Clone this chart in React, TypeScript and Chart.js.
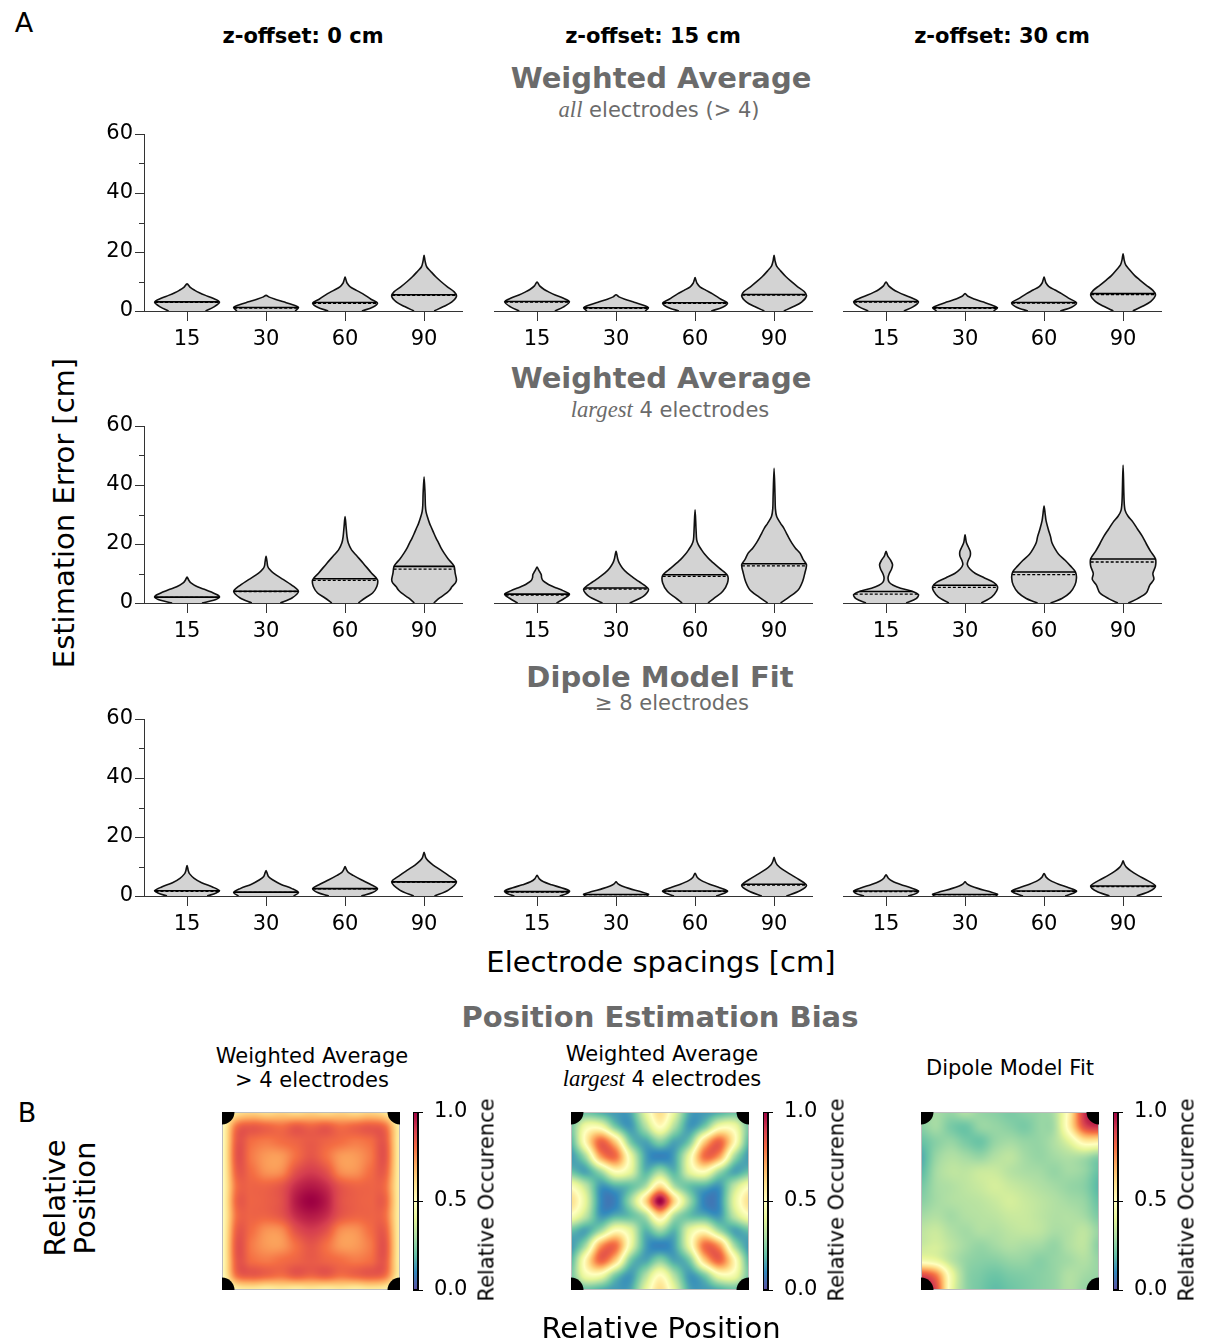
import React, { useEffect, useRef } from 'react';
import { Chart, registerables } from 'chart.js';

Chart.register(...registerables);

const FONT = '"DejaVu Sans", "Liberation Sans", sans-serif';
const MATH = '"Liberation Serif", "DejaVu Serif", serif';
const GRAY = '#6b6b6b';

// ---------------- data ----------------
const spacings = ['15', '30', '60', '90'];
const zOffsets = ['z-offset: 0 cm', 'z-offset: 15 cm', 'z-offset: 30 cm'];
const errorTicks = [0, 20, 40, 60];
const errorMinorTicks = [10, 30, 50];
const occurrenceTicks = [0, 0.5, 1];
const electrodeCorners = [[0, 0], [1, 0], [0, 1], [1, 1]];

type Violin = { mean: number; median: number; shape: [number, number][] };

// Each violin: mean (solid line), median (dashed line) and its outline as
// [estimation error, relative half-width] knots from 0 up to the maximum.
const allZ0: Violin[] = [
  { mean: 3.1, median: 2.9, shape: [[0, .57], [1.4, .83], [3, 1], [4.3, .8], [5.3, .57], [6.2, .38], [7, .24], [8, .1], [9.2, 0]] },
  { mean: 1.2, median: 1.0, shape: [[0, .9], [1.2, 1], [2.2, .8], [3.1, .54], [4, .28], [4.7, .1], [5.3, 0]] },
  { mean: 2.9, median: 2.6, shape: [[0, .52], [1.3, .85], [2.7, 1], [4, .8], [5.9, .54], [7, .35], [8.2, .16], [9.5, .06], [10.5, .03], [11.5, 0]] },
  { mean: 5.5, median: 5.3, shape: [[0, .31], [1.5, .6], [3, .85], [5, 1], [6.5, .93], [8.2, .72], [10, .52], [11.6, .36], [13.5, .2], [15, .08], [17, .03], [18.9, 0]] },
];
const allZ15: Violin[] = [
  { mean: 3.2, median: 3.0, shape: [[0, .55], [1.4, .82], [3.1, 1], [4.4, .8], [5.4, .56], [6.4, .37], [7.3, .22], [8.5, .08], [9.8, 0]] },
  { mean: 1.1, median: 0.9, shape: [[0, .9], [1.1, 1], [2.1, .8], [3.1, .52], [4, .27], [4.8, .09], [5.5, 0]] },
  { mean: 2.8, median: 2.6, shape: [[0, .5], [1.3, .85], [2.7, 1], [4, .8], [5.8, .54], [7, .34], [8.2, .15], [9.4, .06], [10.3, .03], [11.3, 0]] },
  { mean: 5.6, median: 5.4, shape: [[0, .3], [1.5, .6], [3, .85], [5.1, 1], [6.6, .93], [8.3, .72], [10.1, .52], [11.7, .36], [13.6, .2], [15.2, .08], [17, .03], [18.9, 0]] },
];
const allZ30: Violin[] = [
  { mean: 3.2, median: 3.0, shape: [[0, .55], [1.4, .83], [3.1, 1], [4.4, .8], [5.4, .57], [6.4, .37], [7.3, .22], [8.5, .08], [9.8, 0]] },
  { mean: 1.1, median: 0.9, shape: [[0, .88], [1.1, 1], [2.1, .8], [3.1, .54], [4.1, .28], [5, .09], [5.9, 0]] },
  { mean: 2.9, median: 2.7, shape: [[0, .5], [1.3, .85], [2.8, 1], [4.1, .8], [5.9, .54], [7.1, .34], [8.3, .15], [9.5, .06], [10.5, .03], [11.5, 0]] },
  { mean: 5.9, median: 5.6, shape: [[0, .3], [1.6, .6], [3.2, .85], [5.4, 1], [7, .92], [8.7, .72], [10.5, .52], [12, .36], [14, .2], [15.6, .08], [17.5, .03], [19.4, 0]] },
];

const largestZ0: Violin[] = [
  { mean: 2.0, median: 1.9, shape: [[0, .46], [0.9, .82], [2, 1], [2.8, .93], [3.7, .75], [4.5, .57], [5.5, .32], [6.8, .12], [7.8, .05], [8.8, 0]] },
  { mean: 4.0, median: 3.9, shape: [[0, .44], [1.7, .8], [3.9, 1], [5.6, .85], [7.9, .54], [10.1, .23], [11.5, .1], [12.5, .05], [14, .03], [15.8, 0]] },
  { mean: 8.2, median: 7.7, shape: [[0, .41], [1.7, .62], [3.4, .85], [5.6, .98], [7.9, 1], [10.1, .82], [13.5, .56], [16, .36], [18, .2], [20.3, .1], [22.5, .06], [26, .03], [29.3, 0]] },
  { mean: 12.4, median: 11.5, shape: [[0, .3], [1.7, .48], [3.4, .7], [4.5, .8], [5.5, .86], [6.8, .97], [7.9, 1], [10.1, .96], [12.4, .93], [13.5, .86], [15, .74], [16.9, .62], [18.5, .53], [20.3, .45], [22, .37], [23.7, .3], [25.5, .23], [27, .17], [29.3, .1], [31, .06], [33, .04], [37, .03], [42.8, 0]] },
];
const largestZ15: Violin[] = [
  { mean: 3.0, median: 2.7, shape: [[0, .6], [1.7, .86], [3, 1], [4.2, .8], [5.1, .6], [6, .4], [6.8, .28], [7.6, .18], [8.6, .14], [9.6, .13], [10.6, .08], [11.4, .04], [12.2, 0]] },
  { mean: 5.1, median: 4.7, shape: [[0, .42], [2.3, .85], [4.7, 1], [7.3, .7], [8.7, .52], [10.1, .35], [11.8, .2], [13.5, .1], [15, .05], [17.5, 0]] },
  { mean: 9.6, median: 9.0, shape: [[0, .4], [1.7, .6], [3.9, .85], [6.8, 1], [9.4, 1], [11.8, .75], [14.7, .45], [16.5, .3], [18, .2], [19.8, .1], [21.4, .05], [25, .03], [31.6, 0]] },
  { mean: 13.3, median: 12.6, shape: [[0, .2], [2.3, .5], [4.5, .75], [7.3, .88], [10.1, .95], [13, 1], [14.7, .9], [16.9, .8], [18.6, .66], [20.3, .55], [22, .46], [23.7, .38], [25.4, .3], [27, .2], [29.3, .08], [32, .04], [36, .03], [45.7, 0]] },
];
const largestZ30: Violin[] = [
  { mean: 3.9, median: 3.0, shape: [[0, .62], [1.5, .93], [2.8, 1], [4, .8], [5, .45], [6, .22], [7, .1], [8.5, .06], [10, .1], [11.5, .17], [13, .2], [14.5, .14], [16, .05], [17.5, 0]] },
  { mean: 6.0, median: 5.3, shape: [[0, .5], [2, .82], [4, .97], [5.6, 1], [7, .88], [8.5, .6], [10, .32], [11.5, .15], [13, .07], [14.5, .1], [16, .16], [17.5, .16], [19, .1], [20.5, .04], [23.1, 0]] },
  { mean: 10.5, median: 9.6, shape: [[0, .2], [1.5, .55], [3.5, .8], [6, .95], [8.5, 1], [10.5, .97], [12.5, .82], [14.5, .65], [16.5, .45], [18.5, .33], [20.5, .24], [22.5, .2], [25, .13], [28, .06], [30.5, .03], [32.9, 0]] },
  { mean: 14.9, median: 13.9, shape: [[0, .16], [1.5, .45], [3.5, .72], [6, .82], [8, .95], [10, .92], [12.5, 1], [15, 1], [17.5, .85], [20, .72], [22.5, .6], [25, .45], [27.5, .3], [29.5, .15], [31.5, .06], [35, .03], [46.8, 0]] },
];

const dipoleZ0: Violin[] = [
  { mean: 1.8, median: 1.6, shape: [[0, .62], [1, .9], [1.8, 1], [3, .8], [4.5, .45], [6, .22], [7.5, .08], [8.5, .04], [10.3, 0]] },
  { mean: 1.3, median: 1.2, shape: [[0, .85], [1.2, 1], [2.5, .8], [4, .45], [5.5, .2], [6.5, .08], [7.5, .04], [8.6, 0]] },
  { mean: 2.5, median: 2.4, shape: [[0, .5], [1.2, .85], [2.5, 1], [4, .78], [5.5, .5], [7, .25], [8, .1], [9, .04], [10, 0]] },
  { mean: 4.8, median: 4.7, shape: [[0, .32], [2, .75], [4.8, 1], [7, .75], [9, .48], [10.5, .28], [12, .12], [13, .05], [14.8, 0]] },
];
const dipoleZ15: Violin[] = [
  { mean: 1.5, median: 1.3, shape: [[0, .7], [0.8, .92], [1.7, 1], [2.8, .75], [3.8, .45], [4.8, .2], [5.8, .07], [7, 0]] },
  { mean: 0.5, median: 0.45, shape: [[0, .95], [0.6, 1], [1.5, .75], [2.5, .42], [3.4, .18], [4.1, .06], [4.8, 0]] },
  { mean: 1.7, median: 1.6, shape: [[0, .65], [0.9, .9], [1.7, 1], [2.8, .76], [4, .45], [5.2, .2], [6.3, .07], [7.7, 0]] },
  { mean: 4.0, median: 3.7, shape: [[0, .38], [1.8, .8], [3.6, 1], [5.5, .78], [7.5, .48], [9, .26], [10.5, .1], [11.7, .04], [13.1, 0]] },
];
const dipoleZ30: Violin[] = [
  { mean: 1.7, median: 1.5, shape: [[0, .68], [0.8, .92], [1.7, 1], [2.8, .76], [3.9, .45], [5, .2], [6, .07], [7.2, 0]] },
  { mean: 0.5, median: 0.45, shape: [[0, .95], [0.6, 1], [1.5, .75], [2.5, .42], [3.4, .18], [4.1, .06], [4.8, 0]] },
  { mean: 1.7, median: 1.6, shape: [[0, .65], [0.9, .9], [1.7, 1], [2.8, .76], [4, .45], [5.2, .2], [6.3, .07], [7.6, 0]] },
  { mean: 3.4, median: 3.2, shape: [[0, .42], [1.6, .82], [3.4, 1], [5.2, .76], [7, .46], [8.5, .24], [9.8, .1], [10.8, .04], [11.9, 0]] },
];

// Relative occurrence of the estimated position on a 13x13 grid (row 0 = top edge).
const biasWeightedAll: number[][] = [
  [0.45, 0.58, 0.62, 0.60, 0.62, 0.60, 0.62, 0.60, 0.62, 0.60, 0.62, 0.58, 0.45],
  [0.50, 0.80, 0.84, 0.82, 0.80, 0.84, 0.82, 0.84, 0.80, 0.82, 0.84, 0.80, 0.54],
  [0.50, 0.84, 0.80, 0.78, 0.80, 0.82, 0.84, 0.82, 0.80, 0.78, 0.80, 0.84, 0.54],
  [0.50, 0.85, 0.78, 0.73, 0.73, 0.80, 0.85, 0.80, 0.73, 0.73, 0.78, 0.85, 0.54],
  [0.50, 0.83, 0.80, 0.74, 0.75, 0.86, 0.90, 0.86, 0.75, 0.74, 0.80, 0.83, 0.54],
  [0.50, 0.80, 0.82, 0.82, 0.85, 0.93, 0.96, 0.93, 0.85, 0.82, 0.82, 0.80, 0.54],
  [0.50, 0.82, 0.82, 0.83, 0.86, 0.96, 1.00, 0.96, 0.86, 0.83, 0.82, 0.82, 0.54],
  [0.50, 0.80, 0.82, 0.82, 0.85, 0.93, 0.96, 0.93, 0.85, 0.82, 0.82, 0.80, 0.54],
  [0.50, 0.83, 0.80, 0.74, 0.75, 0.86, 0.90, 0.86, 0.75, 0.74, 0.80, 0.83, 0.54],
  [0.50, 0.85, 0.78, 0.73, 0.73, 0.80, 0.85, 0.80, 0.73, 0.73, 0.78, 0.85, 0.54],
  [0.50, 0.84, 0.80, 0.78, 0.80, 0.82, 0.84, 0.82, 0.80, 0.78, 0.80, 0.84, 0.54],
  [0.50, 0.80, 0.84, 0.82, 0.80, 0.84, 0.82, 0.84, 0.80, 0.82, 0.84, 0.80, 0.54],
  [0.45, 0.54, 0.56, 0.54, 0.56, 0.54, 0.56, 0.54, 0.56, 0.54, 0.56, 0.54, 0.45],
];
const biasWeightedLargest: number[][] = [
  [0.16, 0.20, 0.16, 0.13, 0.15, 0.40, 0.60, 0.40, 0.15, 0.13, 0.16, 0.20, 0.16],
  [0.22, 0.45, 0.46, 0.23, 0.13, 0.30, 0.50, 0.30, 0.13, 0.23, 0.46, 0.45, 0.22],
  [0.18, 0.53, 0.82, 0.63, 0.23, 0.15, 0.25, 0.15, 0.23, 0.63, 0.82, 0.53, 0.18],
  [0.13, 0.30, 0.72, 0.80, 0.44, 0.15, 0.09, 0.15, 0.44, 0.80, 0.72, 0.30, 0.13],
  [0.20, 0.15, 0.29, 0.50, 0.41, 0.18, 0.28, 0.18, 0.41, 0.50, 0.29, 0.15, 0.20],
  [0.48, 0.33, 0.13, 0.17, 0.20, 0.30, 0.60, 0.30, 0.20, 0.17, 0.13, 0.33, 0.48],
  [0.60, 0.40, 0.11, 0.09, 0.28, 0.60, 1.00, 0.60, 0.28, 0.09, 0.11, 0.40, 0.60],
  [0.48, 0.33, 0.13, 0.17, 0.20, 0.30, 0.60, 0.30, 0.20, 0.17, 0.13, 0.33, 0.48],
  [0.20, 0.15, 0.29, 0.50, 0.41, 0.18, 0.28, 0.18, 0.41, 0.50, 0.29, 0.15, 0.20],
  [0.13, 0.30, 0.72, 0.80, 0.44, 0.15, 0.09, 0.15, 0.44, 0.80, 0.72, 0.30, 0.13],
  [0.18, 0.53, 0.82, 0.63, 0.23, 0.15, 0.25, 0.15, 0.23, 0.63, 0.82, 0.53, 0.18],
  [0.22, 0.45, 0.46, 0.23, 0.13, 0.30, 0.50, 0.30, 0.13, 0.23, 0.46, 0.45, 0.22],
  [0.16, 0.20, 0.16, 0.13, 0.15, 0.40, 0.60, 0.40, 0.15, 0.13, 0.16, 0.20, 0.16],
];
const biasDipole: number[][] = [
  [0.27, 0.29, 0.27, 0.31, 0.27, 0.25, 0.23, 0.25, 0.27, 0.31, 0.55, 0.92, 0.96],
  [0.25, 0.29, 0.23, 0.21, 0.27, 0.27, 0.25, 0.23, 0.27, 0.30, 0.55, 0.86, 0.92],
  [0.20, 0.25, 0.27, 0.23, 0.21, 0.27, 0.29, 0.27, 0.27, 0.31, 0.40, 0.55, 0.55],
  [0.16, 0.27, 0.31, 0.29, 0.27, 0.31, 0.33, 0.29, 0.27, 0.29, 0.31, 0.30, 0.25],
  [0.18, 0.29, 0.33, 0.33, 0.35, 0.35, 0.32, 0.30, 0.29, 0.27, 0.29, 0.27, 0.20],
  [0.22, 0.29, 0.31, 0.33, 0.35, 0.37, 0.35, 0.33, 0.31, 0.29, 0.27, 0.25, 0.18],
  [0.25, 0.29, 0.31, 0.32, 0.33, 0.35, 0.37, 0.35, 0.33, 0.31, 0.29, 0.27, 0.20],
  [0.29, 0.31, 0.29, 0.31, 0.32, 0.33, 0.35, 0.35, 0.33, 0.31, 0.31, 0.29, 0.23],
  [0.33, 0.35, 0.31, 0.29, 0.31, 0.31, 0.33, 0.34, 0.33, 0.30, 0.31, 0.33, 0.27],
  [0.35, 0.37, 0.33, 0.29, 0.27, 0.29, 0.31, 0.30, 0.29, 0.27, 0.31, 0.33, 0.25],
  [0.45, 0.42, 0.33, 0.27, 0.25, 0.25, 0.27, 0.27, 0.25, 0.27, 0.29, 0.31, 0.27],
  [0.88, 0.78, 0.45, 0.27, 0.23, 0.21, 0.23, 0.24, 0.25, 0.27, 0.31, 0.29, 0.27],
  [1.00, 0.88, 0.45, 0.27, 0.22, 0.19, 0.21, 0.23, 0.25, 0.27, 0.31, 0.27, 0.25],
];

// Spectral colormap, low -> high
const spectralStops = ['#5e4fa2', '#3288bd', '#66c2a5', '#abdda4', '#e6f598', '#ffffbf', '#fee08b', '#fdae61', '#f46d43', '#d53e4f', '#9e0142'];

// ---------------- layout ----------------
const PANEL_LEFT = [144, 494, 843];
const PANEL_TOP = [134, 426, 719];
const PANEL_W = 318;
const PANEL_H = 177;
const Y_AXIS_W = 60;
const PAD_TOP = 18;
const PAD_RIGHT = 6;
const X_AXIS_H = 48;
const HALF = 0.41;

const MAP_LEFT = [222, 571, 921];
const MAP_TOP = 1112;
const MAP_SIZE = 178;
const CB_LEFT = [413, 763, 1113];
const CB_W = 5;

const tickFont = { family: FONT, size: 21 };

// ---------------- helpers ----------------
const stopRGB = spectralStops.map((h) => [parseInt(h.slice(1, 3), 16), parseInt(h.slice(3, 5), 16), parseInt(h.slice(5, 7), 16)]);

function spectral(v: number): number[] {
  const t = Math.min(1, Math.max(0, v)) * (stopRGB.length - 1);
  const i = Math.min(stopRGB.length - 2, Math.floor(t));
  const f = t - i;
  const a = stopRGB[i], b = stopRGB[i + 1];
  return [a[0] + (b[0] - a[0]) * f, a[1] + (b[1] - a[1]) * f, a[2] + (b[2] - a[2]) * f];
}

function widthAt(shape: [number, number][], v: number): number {
  for (let i = 1; i < shape.length; i++) {
    const [y0, w0] = shape[i - 1];
    const [y1, w1] = shape[i];
    if (v <= y1) return w0 + ((w1 - w0) * (v - y0)) / (y1 - y0);
  }
  return 0;
}

// Catmull-Rom resampling of a value grid, as an image shown with bicubic interpolation
function sampleGrid(g: number[][], gx: number, gy: number): number {
  const n = g.length;
  const ix = Math.floor(gx), iy = Math.floor(gy);
  const tx = gx - ix, ty = gy - iy;
  const wts = (t: number) => [
    (-t * t * t + 2 * t * t - t) / 2,
    (3 * t * t * t - 5 * t * t + 2) / 2,
    (-3 * t * t * t + 4 * t * t + t) / 2,
    (t * t * t - t * t) / 2,
  ];
  const wx = wts(tx), wy = wts(ty);
  let s = 0;
  for (let m = 0; m < 4; m++) {
    const r = Math.min(n - 1, Math.max(0, iy + m - 1));
    let row = 0;
    for (let k = 0; k < 4; k++) {
      const c = Math.min(n - 1, Math.max(0, ix + k - 1));
      row += g[r][c] * wx[k];
    }
    s += row * wy[m];
  }
  return s;
}

const baseOptions = {
  animation: false,
  responsive: false,
  events: [],
  plugins: { legend: { display: false }, tooltip: { enabled: false } },
};

// ---------------- components ----------------
function ViolinPanel({ violins, col, row }: { violins: Violin[]; col: number; row: number }) {
  const ref = useRef<HTMLCanvasElement>(null);
  const showY = col === 0;
  const yw = showY ? Y_AXIS_W : 0;
  const width = yw + PANEL_W + PAD_RIGHT;
  const height = PAD_TOP + PANEL_H + X_AXIS_H;

  useEffect(() => {
    const datasets: any[] = [];
    violins.forEach((v, i) => {
      const pos = i + 1;
      const rightSide = v.shape.map(([e, w]) => ({ x: pos + w * HALF, y: e }));
      const leftSide = v.shape.slice(0, -1).reverse().map(([e, w]) => ({ x: pos - w * HALF, y: e }));
      datasets.push({
        data: [...rightSide, ...leftSide],
        showLine: true,
        fill: 'shape',
        backgroundColor: '#d3d3d3',
        borderColor: '#111',
        borderWidth: 1.6,
        pointRadius: 0,
        tension: 0.3,
        order: 2,
      });
    });
    violins.forEach((v, i) => {
      const pos = i + 1;
      const lines: [number, number[], number, number][] = [
        [v.median, [3, 2], 1.3, 1],
        [v.mean, [], 1.6, 0],
      ];
      for (const [val, dash, lw, order] of lines) {
        const hw = widthAt(v.shape, val) * HALF;
        datasets.push({
          data: [{ x: pos - hw, y: val }, { x: pos + hw, y: val }],
          showLine: true,
          fill: false,
          borderColor: '#000',
          borderWidth: lw,
          borderDash: dash,
          pointRadius: 0,
          order,
        });
      }
    });

    const minorTicks = {
      id: 'minorTicks',
      afterDraw(chart: any) {
        if (!showY) return;
        const { ctx, chartArea, scales } = chart;
        ctx.save();
        ctx.strokeStyle = '#333';
        ctx.lineWidth = 1;
        for (const v of errorMinorTicks) {
          const py = Math.round(scales.y.getPixelForValue(v)) + 0.5;
          ctx.beginPath();
          ctx.moveTo(chartArea.left - 5, py);
          ctx.lineTo(chartArea.left, py);
          ctx.stroke();
        }
        ctx.restore();
      },
    };

    const chart = new Chart(ref.current as HTMLCanvasElement, {
      type: 'scatter',
      data: { datasets },
      options: {
        ...baseOptions,
        layout: { autoPadding: false, padding: { top: PAD_TOP, right: PAD_RIGHT, bottom: 0, left: 0 } },
        scales: {
          x: {
            type: 'linear',
            min: 0.455,
            max: 4.48,
            afterBuildTicks: (s: any) => {
              s.ticks = spacings.map((_, i) => ({ value: i + 1 }));
            },
            afterFit: (s: any) => {
              s.height = X_AXIS_H;
            },
            ticks: {
              callback: (_v: any, i: number) => spacings[i],
              font: tickFont,
              color: '#000',
              padding: 6,
              maxRotation: 0,
              autoSkip: false,
            },
            grid: { drawOnChartArea: false, tickLength: 10, color: '#333', lineWidth: 1 },
            border: { display: true, color: '#333', width: 1, z: 1 },
          },
          y: {
            type: 'linear',
            display: showY,
            min: 0,
            max: 60,
            afterBuildTicks: (s: any) => {
              s.ticks = errorTicks.map((v) => ({ value: v }));
            },
            afterFit: (s: any) => {
              s.width = showY ? Y_AXIS_W : 0;
            },
            ticks: { font: tickFont, color: '#000', padding: 2, autoSkip: false },
            grid: { drawOnChartArea: false, tickLength: 9, color: '#333', lineWidth: 1 },
            border: { display: true, color: '#333', width: 1, z: 1 },
          },
        },
      } as any,
      plugins: [minorTicks],
    });
    return () => chart.destroy();
  }, []);

  return (
    <canvas
      ref={ref}
      width={width}
      height={height}
      style={{ position: 'absolute', left: PANEL_LEFT[col] - yw, top: PANEL_TOP[row] - PAD_TOP, width, height }}
    />
  );
}

function BiasMap({ grid, col }: { grid: number[][]; col: number }) {
  const ref = useRef<HTMLCanvasElement>(null);
  useEffect(() => {
    const field = {
      id: 'field',
      beforeDatasetsDraw(chart: any) {
        const { ctx, scales } = chart;
        const l = scales.x.getPixelForValue(0);
        const r = scales.x.getPixelForValue(1);
        const t = scales.y.getPixelForValue(1);
        const b = scales.y.getPixelForValue(0);
        const w = Math.round(r - l), h = Math.round(b - t);
        const n = grid.length;
        const img = ctx.createImageData(w, h);
        for (let py = 0; py < h; py++) {
          for (let px = 0; px < w; px++) {
            const val = sampleGrid(grid, ((px + 0.5) / w) * (n - 1), ((py + 0.5) / h) * (n - 1));
            const [cr, cg, cb] = spectral(val);
            const k = (py * w + px) * 4;
            img.data[k] = cr;
            img.data[k + 1] = cg;
            img.data[k + 2] = cb;
            img.data[k + 3] = 255;
          }
        }
        const off = document.createElement('canvas');
        off.width = w;
        off.height = h;
        (off.getContext('2d') as CanvasRenderingContext2D).putImageData(img, 0, 0);
        ctx.drawImage(off, l, t);
        ctx.save();
        ctx.strokeStyle = '#bdbdbd';
        ctx.lineWidth = 1;
        ctx.strokeRect(l + 0.5, t + 0.5, w - 1, h - 1);
        ctx.restore();
      },
    };
    const chart = new Chart(ref.current as HTMLCanvasElement, {
      type: 'scatter',
      data: {
        datasets: [
          {
            data: electrodeCorners.map(([x, y]) => ({ x, y })),
            pointRadius: 12.5,
            backgroundColor: '#000',
            borderWidth: 0,
            clip: 0,
          },
        ],
      },
      options: {
        ...baseOptions,
        layout: { autoPadding: false, padding: 0 },
        scales: {
          x: { type: 'linear', min: 0, max: 1, display: false },
          y: { type: 'linear', min: 0, max: 1, display: false },
        },
      } as any,
      plugins: [field],
    });
    return () => chart.destroy();
  }, []);
  return (
    <canvas
      ref={ref}
      width={MAP_SIZE}
      height={MAP_SIZE}
      style={{ position: 'absolute', left: MAP_LEFT[col], top: MAP_TOP, width: MAP_SIZE, height: MAP_SIZE }}
    />
  );
}

function Colorbar({ col }: { col: number }) {
  const ref = useRef<HTMLCanvasElement>(null);
  const padV = 26;
  const axisW = 60;
  const width = CB_W + axisW;
  const height = MAP_SIZE + 2 * padV;
  useEffect(() => {
    const bar = {
      id: 'bar',
      beforeDraw(chart: any) {
        const { ctx, chartArea, scales } = chart;
        for (let py = Math.floor(chartArea.top); py < Math.ceil(chartArea.bottom); py++) {
          const [r, g, b] = spectral(scales.y.getValueForPixel(py + 0.5));
          ctx.fillStyle = `rgb(${r},${g},${b})`;
          ctx.fillRect(chartArea.left, py, chartArea.right - chartArea.left, 1);
        }
      },
      afterDraw(chart: any) {
        const { ctx, chartArea } = chart;
        ctx.save();
        ctx.strokeStyle = '#000';
        ctx.lineWidth = 1;
        ctx.strokeRect(chartArea.left + 0.5, chartArea.top + 0.5, chartArea.right - chartArea.left - 1, chartArea.bottom - chartArea.top - 1);
        ctx.restore();
      },
    };
    const chart = new Chart(ref.current as HTMLCanvasElement, {
      type: 'scatter',
      data: { datasets: [] },
      options: {
        ...baseOptions,
        layout: { autoPadding: false, padding: { top: padV, bottom: padV, left: 0, right: 0 } },
        scales: {
          x: { type: 'linear', min: 0, max: 1, display: false },
          y: {
            type: 'linear',
            position: 'right',
            min: 0,
            max: 1,
            afterBuildTicks: (s: any) => {
              s.ticks = occurrenceTicks.map((v) => ({ value: v }));
            },
            afterFit: (s: any) => {
              s.width = axisW;
            },
            ticks: { callback: (v: any) => Number(v).toFixed(1), font: tickFont, color: '#000', padding: 11, autoSkip: false },
            grid: { drawOnChartArea: true, tickLength: 5, color: '#000', lineWidth: 1 },
            border: { display: true, color: '#000', width: 1 },
          },
        },
      } as any,
      plugins: [bar],
    });
    return () => chart.destroy();
  }, []);
  return (
    <canvas
      ref={ref}
      width={width}
      height={height}
      style={{ position: 'absolute', left: CB_LEFT[col], top: MAP_TOP - padV, width, height }}
    />
  );
}

function Label({ x, y, size = 21, weight = 'normal', color = '#000', rotate = 0, lineHeight = 1, children }: any) {
  return (
    <div
      style={{
        position: 'absolute',
        left: x,
        top: y,
        transform: `translate(-50%, -50%) rotate(${rotate}deg)`,
        fontFamily: FONT,
        fontSize: size,
        fontWeight: weight,
        color,
        whiteSpace: 'nowrap',
        lineHeight,
        textAlign: 'center',
      }}
    >
      {children}
    </div>
  );
}

const mathItalic = (t: string) => (
  <span style={{ fontFamily: MATH, fontStyle: 'italic', fontSize: '1.08em' }}>{t}</span>
);

const rows: Violin[][][] = [
  [allZ0, allZ15, allZ30],
  [largestZ0, largestZ15, largestZ30],
  [dipoleZ0, dipoleZ15, dipoleZ30],
];
const maps = [biasWeightedAll, biasWeightedLargest, biasDipole];
const colCenter = [303, 653, 1002];

export default function App() {
  return (
    <div style={{ position: 'absolute', left: 0, top: 0, width: 1205, height: 1344, background: '#fff', overflow: 'hidden' }}>
      <Label x={24} y={22} size={27}>A</Label>
      <Label x={27} y={1112} size={27}>B</Label>

      {zOffsets.map((z, i) => (
        <Label key={z} x={colCenter[i]} y={36} weight="bold">{z}</Label>
      ))}

      <Label x={661} y={78} size={29} weight="bold" color={GRAY}>Weighted Average</Label>
      <Label x={659} y={110} color={GRAY}>{mathItalic('all')} electrodes (&gt; 4)</Label>
      <Label x={661} y={378} size={29} weight="bold" color={GRAY}>Weighted Average</Label>
      <Label x={670} y={410} color={GRAY}>{mathItalic('largest')} 4 electrodes</Label>
      <Label x={660} y={677} size={29} weight="bold" color={GRAY}>Dipole Model Fit</Label>
      <Label x={672} y={703} color={GRAY}>≥ 8 electrodes</Label>

      <Label x={64} y={513} size={29} rotate={-90}>Estimation Error [cm]</Label>
      <Label x={661} y={962} size={29}>Electrode spacings [cm]</Label>

      {rows.map((r, ri) => r.map((v, ci) => <ViolinPanel key={`${ri}-${ci}`} violins={v} row={ri} col={ci} />))}

      <Label x={660} y={1017} size={29} weight="bold" color={GRAY}>Position Estimation Bias</Label>
      <Label x={312} y={1068} lineHeight={1.15}>
        Weighted Average<br />&gt; 4 electrodes
      </Label>
      <Label x={662} y={1067} lineHeight={1.15}>
        Weighted Average<br />{mathItalic('largest')} 4 electrodes
      </Label>
      <Label x={1010} y={1068}>Dipole Model Fit</Label>

      {maps.map((g, i) => (
        <BiasMap key={`m${i}`} grid={g} col={i} />
      ))}
      {maps.map((_, i) => (
        <Colorbar key={`c${i}`} col={i} />
      ))}
      {[487, 837, 1187].map((x) => (
        <Label key={`ro${x}`} x={x} y={1200} rotate={-90}>Relative Occurence</Label>
      ))}

      <Label x={70} y={1198} size={29} rotate={-90} lineHeight={1.05}>
        Relative<br />Position
      </Label>
      <Label x={661} y={1328} size={29}>Relative Position</Label>
    </div>
  );
}
